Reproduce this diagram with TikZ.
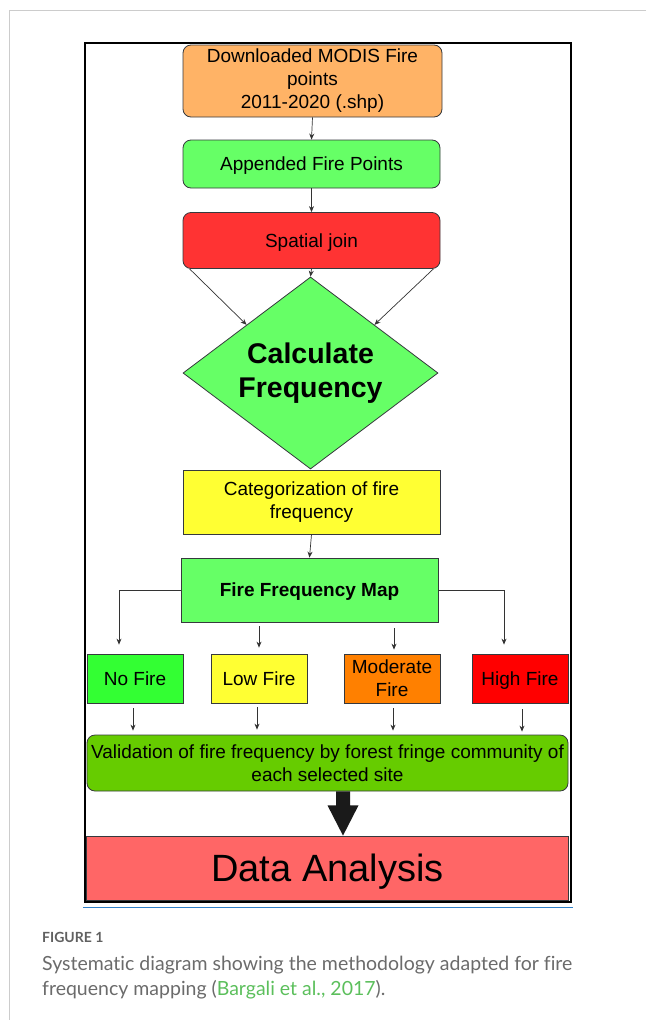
\documentclass[tikz,border=0pt]{standalone}
\usepackage{fontspec}
\setmainfont{Liberation Sans}
\newfontfamily\latofont[Ligatures=NoCommon]{Lato}
\usetikzlibrary{shapes.geometric,arrows.meta,calc}
\definecolor{orangebox}{HTML}{FFB366}
\definecolor{greenbox}{HTML}{66FF66}
\definecolor{redbox}{HTML}{FF3333}
\definecolor{yellowbox}{HTML}{FFFF33}
\definecolor{nofire}{HTML}{33FF33}
\definecolor{modfire}{HTML}{FF8000}
\definecolor{highfire}{HTML}{FF0000}
\definecolor{valbox}{HTML}{66CC00}
\definecolor{databox}{HTML}{FF6666}
\definecolor{bordc}{HTML}{36393D}
\definecolor{connc}{HTML}{333333}
\definecolor{pageline}{HTML}{CCCCCC}
\definecolor{blueline}{HTML}{2F80C8}
\definecolor{capgray}{HTML}{6B6B6B}
\definecolor{capgreen}{HTML}{5CBF5C}
\definecolor{bigarrowc}{HTML}{1A1A1A}
\tikzset{
  fbox/.style={draw=bordc, line width=0.8pt, inner sep=2pt, align=center,
    font=\fontsize{19}{23}\selectfont},
  rbox/.style={fbox, rounded corners=8pt},
  oneline/.style={text height=14pt, text depth=1pt},
  conn/.style={draw=connc, line width=0.7pt, -{Stealth[length=6pt,width=5pt]}},
}
\begin{document}
\begin{tikzpicture}[x=1pt,y=-1pt]
\useasboundingbox (0,0) rectangle (646,1020);
% page lines
\draw[pageline, line width=1pt] (646,10) -- (9,10) -- (9,1020);
% diagram frame
\draw[black, line width=1.6pt] (85,43) rectangle (571,902);
\draw[blueline, line width=1.4pt] (83,907.5) -- (573,907.5);

% nodes
\node[rbox, fill=orangebox, minimum width=259pt, minimum height=72pt] (dl) at (312.5,81)
  {Downloaded MODIS Fire\\points\\2011-2020 (.shp)};
\node[rbox, oneline, fill=greenbox, minimum width=257pt, minimum height=48pt] (app) at (311.5,164)
  {Appended Fire Points};
\node[rbox, oneline, fill=redbox, minimum width=257pt, minimum height=56pt] (sj) at (311.5,240.5)
  {Spatial join};
\node[draw=bordc, line width=0.8pt, fill=greenbox, diamond, aspect=1.33, inner sep=0pt,
  minimum width=255pt, minimum height=192pt, align=center,
  font=\fontsize{28.5}{34}\selectfont\bfseries] (calc) at (310.5,373)
  {Calculate\\Frequency};
\node[fbox, fill=yellowbox, minimum width=257pt, minimum height=64pt] (cat) at (311.5,502)
  {Categorization of fire\\frequency};
\node[fbox, oneline, fill=greenbox, minimum width=257pt, minimum height=64pt, font=\fontsize{19}{23}\selectfont\bfseries] (ffm) at (309.5,590)
  {Fire Frequency Map};
\node[fbox, oneline, fill=nofire, minimum width=96pt, minimum height=49pt] (nf) at (135,678.5) {No Fire};
\node[fbox, oneline, fill=yellowbox, minimum width=96pt, minimum height=49pt] (lf) at (259,678.5) {Low Fire};
\node[fbox, fill=modfire, minimum width=96pt, minimum height=49pt] (mf) at (392,678.5) {Moderate\\Fire};
\node[fbox, oneline, fill=highfire, minimum width=96pt, minimum height=49pt] (hf) at (520,678.5) {High Fire};
\node[rbox, fill=valbox, minimum width=481pt, minimum height=56pt, inner sep=0pt] (val) at (327.5,763)
  {Validation of fire frequency by forest fringe community of\\each selected site};
\node[fbox, fill=databox, minimum width=482pt, minimum height=64pt, text height=28pt, text depth=2pt,
  font=\fontsize{38}{44}\selectfont] (da) at (327.5,868) {Data Analysis};

% connectors
\draw[conn] (dl.south) -- (app.north);
\draw[conn] (app.south) -- (sj.north);
\draw[conn] (sj.south) -- (calc.north);
\draw[conn] ([xshift=7pt]sj.south west) -- (calc.north west);
\draw[conn] ([xshift=-7pt]sj.south east) -- (calc.north east);
\draw[conn] (cat.south) -- (ffm.north);

\coordinate (nfin) at ($(nf.north)+(-16,-9)$);
\coordinate (hfin) at ($(hf.north)+(-16,-9)$);
\draw[conn] (ffm.west) -| (nfin);
\draw[conn] (ffm.east) -| (hfin);
\draw[conn] ($(ffm.south)+(-50.5,4)$) -- ($(lf.north)+(0,-6)$);
\draw[conn] ($(ffm.south)+(84.5,6)$) -- ($(mf.north)+(2,-4)$);

\draw[conn] ($(nf.south)+(-2,5)$) -- ($(val.north -| nf.south)+(-2,-4)$);
\draw[conn] ($(lf.south)+(-2,4)$) -- ($(val.north -| lf.south)+(-2,-5)$);
\draw[conn] ($(mf.south)+(1,5)$) -- ($(val.north -| mf.south)+(1,-4)$);
\draw[conn] ($(hf.south)+(2,6)$) -- ($(val.north -| hf.south)+(2,-3)$);

% big arrow
\fill[bigarrowc] ([xshift=8.5pt]val.south) -- ([xshift=8.5pt,yshift=-14pt]val.south)
  -- ([xshift=0pt,yshift=-14pt]val.south) -- ([xshift=15.5pt]da.north)
  -- ([xshift=31pt,yshift=-14pt]val.south) -- ([xshift=22.5pt,yshift=-14pt]val.south)
  -- ([xshift=22.5pt]val.south) -- cycle;

% caption
\node[anchor=base west, inner sep=0pt, text=capgray!90!black,
  font=\latofont\bfseries\fontsize{14}{16}\selectfont] (fig) at (42,942) {FIGURE 1};
\node[anchor=base west, inner sep=0pt, text=capgray,
  font=\latofont\fontsize{19.5}{25}\selectfont] (cap1) at (42,970)
  {Systematic diagram showing the methodology adapted for fire};
\node[anchor=base west, inner sep=0pt, text=capgray,
  font=\latofont\fontsize{19.5}{25}\selectfont] (cap2) at (42,995)
  {frequency mapping (\textcolor{capgreen}{Bargali et al., 2017}).};
\end{tikzpicture}
\end{document}
